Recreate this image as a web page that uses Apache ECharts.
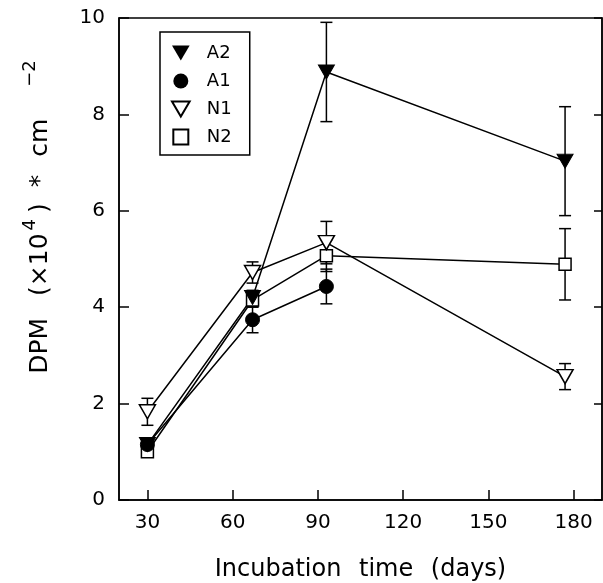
<!DOCTYPE html>
<html>
<head>
<meta charset="utf-8">
<title>DPM vs incubation time</title>
<script src="https://cdn.jsdelivr.net/npm/echarts@6/dist/echarts.min.js"></script>
<style>
  html, body { margin: 0; padding: 0; background: #fff; }
  #chart { width: 603px; height: 583px; }
</style>
</head>
<body>
<div id="chart"></div>
<script>
// data
var days = [30, 67, 93, 177];
var a2 = [1.15, 4.2, 8.88, 7.03];
var a2Err = [0.1, 0.15, 1.03, 1.13];
var a1Days = [30, 67, 93];
var a1 = [1.15, 3.74, 4.43];
var a1Err = [0.1, 0.27, 0.36];
var n1 = [1.83, 4.72, 5.34, 2.56];
var n1Err = [0.28, 0.22, 0.44, 0.27];
var n2 = [1.0, 4.15, 5.07, 4.89];
var n2Err = [0.1, 0.15, 0.33, 0.74];
var xTicks = [30, 60, 90, 120, 150, 180];

var triDown = 'path://M0,0L20,0L10,17Z';
var square = 'path://M0,0L10,0L10,10L0,10Z';
var font = 'DejaVu Sans';

function pairs(xs, ys) {
    return xs.map(function (x, i) { return [x, ys[i]]; });
}
function errRows(xs, ys, es) {
    return xs.map(function (x, i) { return [x, ys[i] - es[i], ys[i] + es[i]]; });
}

var errData = []
    .concat(errRows(days, a2, a2Err))
    .concat(errRows(a1Days, a1, a1Err))
    .concat(errRows(days, n1, n1Err))
    .concat(errRows(days, n2, n2Err));

// the original typeface is widely spaced, so words get some extra room
function tok(pad, size, lh, va) {
    return { fontFamily: font, fontSize: size, color: '#000', lineHeight: lh, verticalAlign: va, padding: [0, 0, 0, pad] };
}

var chart = echarts.init(document.getElementById('chart'));

chart.setOption({
    animation: false,
    grid: {
        left: 119, right: 1, top: 18, bottom: 83,
        outerBoundsMode: 'none',
        show: true, borderColor: '#000', borderWidth: 1.5
    },
    legend: {
        orient: 'vertical',
        left: 160, top: 32,
        padding: [12, 18, 9, 11],
        itemGap: 10,
        itemWidth: 26, itemHeight: 15,
        borderColor: '#000', borderWidth: 1.5,
        textStyle: { fontFamily: font, fontSize: 18, color: '#000', padding: [0, 0, 0, 8], lineHeight: 15 },
        data: [
            { name: 'A2', icon: triDown },
            { name: 'A1', icon: 'circle' },
            { name: 'N1', icon: triDown },
            { name: 'N2', icon: square }
        ]
    },
    xAxis: {
        type: 'value',
        min: 20, max: 190,
        name: '{w|Incubation }{g|time }{g|(days)}',
        nameLocation: 'middle',
        nameGap: 55,
        nameTextStyle: {
            rich: {
                w: tok(0, 24, 30, 'middle'),
                g: tok(10, 24, 30, 'middle')
            }
        },
        axisLine: { lineStyle: { color: '#000', width: 1.5 } },
        axisTick: { inside: true, length: 10, lineStyle: { color: '#000', width: 1.5 }, customValues: xTicks },
        axisLabel: { fontFamily: font, fontSize: 20, color: '#000', margin: 13, customValues: xTicks },
        splitLine: { show: false }
    },
    yAxis: [{
        type: 'value',
        min: 0, max: 10, interval: 2,
        name: '{d|DPM }{a|(×10}{s|4}{b|)}{c| *}{e| cm}{t|−2}',
        nameLocation: 'middle',
        nameGap: 66,
        nameTextStyle: {
            rich: {
                d: tok(84, 25, 32, 'bottom'),
                a: tok(14, 25, 32, 'bottom'),
                s: tok(3, 18, 32, 'top'),
                b: tok(6, 25, 32, 'bottom'),
                c: tok(8, 25, 32, 'bottom'),
                e: tok(10, 25, 32, 'bottom'),
                t: tok(32, 18, 32, 'top')
            }
        },
        axisLine: { lineStyle: { color: '#000', width: 1.5 } },
        axisTick: { inside: true, length: 10, lineStyle: { color: '#000', width: 1.5 } },
        axisLabel: { fontFamily: font, fontSize: 20, color: '#000', margin: 14 },
        splitLine: { show: false }
    }, {
        type: 'value',
        position: 'right',
        min: 0, max: 10, interval: 2,
        axisLine: { show: true, lineStyle: { color: '#000', width: 1.5 } },
        axisTick: { inside: true, length: 8, lineStyle: { color: '#000', width: 1.5 } },
        axisLabel: { show: false },
        splitLine: { show: false }
    }],
    series: [
        {
            type: 'custom',
            z: 1,
            silent: true,
            data: errData,
            renderItem: function (params, api) {
                var x = api.value(0);
                var lo = api.coord([x, api.value(1)]);
                var hi = api.coord([x, api.value(2)]);
                var w = 6;
                var st = { stroke: '#000', lineWidth: 1.5 };
                return {
                    type: 'group',
                    children: [
                        { type: 'line', shape: { x1: lo[0], y1: lo[1], x2: hi[0], y2: hi[1] }, style: st },
                        { type: 'line', shape: { x1: lo[0] - w, y1: lo[1], x2: lo[0] + w, y2: lo[1] }, style: st },
                        { type: 'line', shape: { x1: hi[0] - w, y1: hi[1], x2: hi[0] + w, y2: hi[1] }, style: st }
                    ]
                };
            }
        },
        {
            name: 'N2', type: 'line', z: 3,
            data: pairs(days, n2),
            symbol: 'rect', symbolSize: 12,
            itemStyle: { color: '#fff', borderColor: '#000', borderWidth: 1.5 },
            lineStyle: { color: '#000', width: 1.5 }
        },
        {
            name: 'N1', type: 'line', z: 3,
            data: pairs(days, n1),
            symbol: triDown, symbolSize: [16, 14],
            itemStyle: { color: '#fff', borderColor: '#000', borderWidth: 1.5 },
            lineStyle: { color: '#000', width: 1.5 }
        },
        {
            name: 'A1', type: 'line', z: 3,
            data: pairs(a1Days, a1),
            symbol: 'circle', symbolSize: 14,
            itemStyle: { color: '#000', borderColor: '#000' },
            lineStyle: { color: '#000', width: 1.5 }
        },
        {
            name: 'A2', type: 'line', z: 3,
            data: pairs(days, a2),
            symbol: triDown, symbolSize: [16, 14],
            itemStyle: { color: '#000', borderColor: '#000' },
            lineStyle: { color: '#000', width: 1.5 }
        }
    ]
});
</script>
</body>
</html>
